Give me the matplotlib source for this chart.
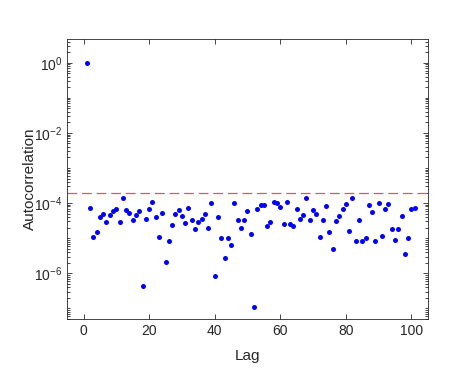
import matplotlib
matplotlib.use('Agg')
import matplotlib.pyplot as plt
from matplotlib.ticker import LogLocator, FixedLocator, NullFormatter, LogFormatterSciNotation

plt.rcParams['font.family'] = ['Liberation Sans', 'DejaVu Sans']
plt.rcParams['mathtext.fontset'] = 'custom'
plt.rcParams['mathtext.rm'] = 'Liberation Sans'
plt.rcParams['mathtext.it'] = 'Liberation Sans:italic'
plt.rcParams['lines.scale_dashes'] = False

# autocorrelation values, lags 1..101
lags = list(range(1, 102))
acf = [
    1.0, 7.2e-5, 1.06e-5, 1.5e-5, 4.0e-5, 4.9e-5, 2.8e-5, 4.7e-5, 5.8e-5, 6.6e-5,
    2.8e-5, 1.36e-4, 6.3e-5, 5.2e-5, 3.2e-5, 4.7e-5, 5.8e-5, 4.2e-7, 3.5e-5, 6.6e-5,
    1.05e-4, 4.0e-5, 1.1e-5, 5.1e-5, 2.1e-6, 8.2e-6, 2.3e-5, 4.9e-5, 6.3e-5, 4.4e-5,
    2.7e-5, 7.2e-5, 3.4e-5, 1.8e-5, 2.8e-5, 3.6e-5, 5.0e-5, 1.9e-5, 1.0e-4, 8.5e-7,
    3.9e-5, 1.0e-5, 2.7e-6, 1.0e-5, 6.4e-6, 1.0e-4, 3.4e-5, 2.0e-5, 3.4e-5, 6.0e-5,
    1.3e-5, 1.07e-7, 6.6e-5, 8.6e-5, 8.6e-5, 2.2e-5, 2.8e-5, 1.05e-4, 9.8e-5, 7.5e-5,
    2.5e-5, 1.09e-4, 2.5e-5, 2.2e-5, 7.0e-5, 3.6e-5, 4.6e-5, 1.41e-4, 3.2e-5, 6.2e-5,
    4.9e-5, 1.06e-5, 3.4e-5, 8.0e-5, 1.5e-5, 4.8e-6, 3.1e-5, 4.2e-5, 6.7e-5, 9.2e-5,
    1.6e-5, 1.39e-4, 8.2e-6, 3.3e-5, 8.3e-6, 1.0e-5, 8.6e-5, 5.5e-5, 8.3e-6, 1.0e-4,
    1.18e-5, 6.6e-5, 9.6e-5, 1.8e-5, 8.7e-6, 1.8e-5, 4.2e-5, 3.6e-6, 1.0e-5, 6.6e-5,
    7.2e-5,
]
threshold = 2.0e-4

axcol = (0.15, 0.15, 0.15)

fig = plt.figure(figsize=(4.63, 3.81), dpi=100)
ax = fig.add_axes([0.145, 0.163, 0.779, 0.735])

ax.plot(lags, acf, 'o', color='blue', markersize=3.6, markeredgewidth=0, zorder=3)
ax.axhline(threshold, color='#f05050', lw=0.9, dashes=(7, 3.5), zorder=2)

ax.set_yscale('log')
ax.set_xlim(-5, 105)
ax.set_ylim(5e-8, 4.8)
ax.set_xticks([0, 20, 40, 60, 80, 100])
ax.yaxis.set_major_locator(FixedLocator([1e-6, 1e-4, 1e-2, 1e0]))
ax.yaxis.set_major_formatter(LogFormatterSciNotation())
ax.yaxis.set_minor_locator(LogLocator(base=10, subs=[1, 2, 3, 4, 5, 6, 7, 8, 9], numticks=50))
ax.yaxis.set_minor_formatter(NullFormatter())

ax.set_xlabel('Lag', fontsize=11, color=axcol, labelpad=8)
ax.set_ylabel('Autocorrelation', fontsize=11, color=axcol, labelpad=-2)

for s in ax.spines.values():
    s.set_color(axcol)
    s.set_linewidth(0.6)
ax.tick_params(which='both', direction='in', top=True, right=True, colors=axcol, labelsize=10, width=0.6)
ax.tick_params(which='major', length=3.5)
ax.tick_params(which='minor', length=2)

fig.savefig('out.png', dpi=100)
